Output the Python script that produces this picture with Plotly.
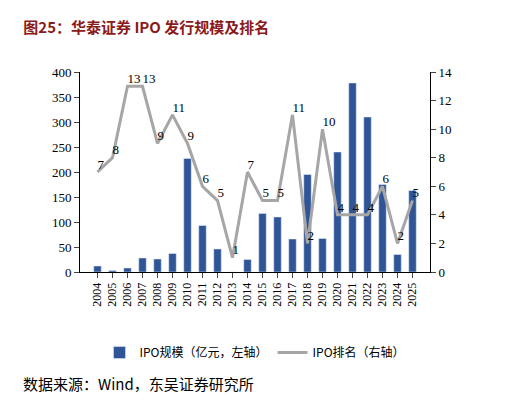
import plotly.graph_objects as go

years = [str(y) for y in range(2004, 2026)]
ipo_size = [12, 3, 8, 28, 26, 37, 227, 93, 46, 0, 25, 117, 110, 66, 195, 67, 240, 378, 310, 175, 35, 163]
ipo_rank = [7, 8, 13, 13, 9, 11, 9, 6, 5, 1, 7, 5, 5, 11, 2, 10, 4, 4, 4, 6, 2, 5]

font = "Noto Sans CJK SC"

fig = go.Figure()
fig.add_trace(go.Bar(x=years, y=ipo_size, name="IPO规模（亿元，左轴）",
                     marker_color="#2F5597", width=0.5))
fig.add_trace(go.Scatter(x=years, y=ipo_rank, name="IPO排名（右轴）", yaxis="y2",
                         mode="lines+text", text=[str(v) for v in ipo_rank],
                         textposition="top right", textfont=dict(size=13, color="black"),
                         line=dict(color="#A6A6A6", width=3)))

fig.update_layout(
    width=510, height=402,
    margin=dict(l=72, r=88, t=64, b=138, autoexpand=False),
    paper_bgcolor="white", plot_bgcolor="white",
    font=dict(family="Times New Roman, Liberation Serif, " + font, size=13, color="black"),
    bargap=0.5,
    xaxis=dict(type="category", tickangle=-90, showline=True, linecolor="black",
               ticks="outside", tickfont=dict(size=12), dtick=1, tickmode="linear"),
    yaxis=dict(range=[0, 400], dtick=50, showline=True, linecolor="black",
               ticks="outside", showgrid=False, zeroline=False),
    yaxis2=dict(range=[0, 14], dtick=2, overlaying="y", side="right", showline=True,
                linecolor="black", ticks="outside", showgrid=False, zeroline=False),
    legend=dict(orientation="h", x=0.5, xanchor="center", y=-0.33, yanchor="top",
                font=dict(size=12, family=font)),
    title=dict(text="<b>图25：华泰证券 IPO 发行规模及排名</b>", x=0.03, y=0.965,
               font=dict(size=15, color="#8B1A1A", family=font)),
    annotations=[dict(text="数据来源：Wind，东吴证券研究所", xref="paper", yref="paper",
                      x=-0.17, y=-0.62, xanchor="left", showarrow=False,
                      font=dict(size=15, family=font))],
)

fig.write_html("out.html")
